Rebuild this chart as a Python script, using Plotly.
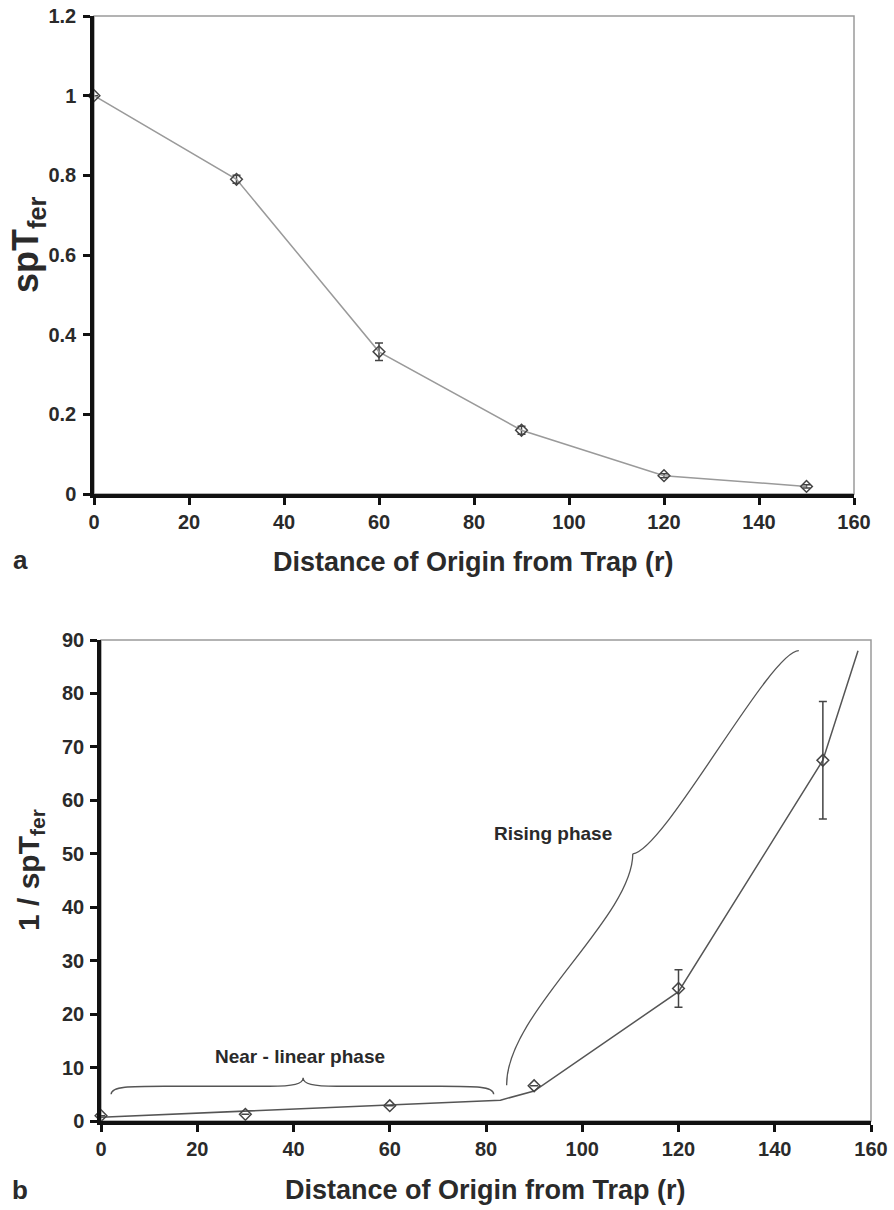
import plotly.graph_objects as go

# ---- data ----
r_top = [0, 30, 60, 90, 120, 150]
sp_top = [1.0, 0.79, 0.357, 0.16, 0.046, 0.019]
sp_err = [0.0, 0.01, 0.022, 0.01, 0.005, 0.004]

r_bot = [0, 30, 60, 90, 120, 150]
inv_bot = [1.0, 1.25, 2.86, 6.6, 24.8, 67.5]
inv_err = [0.0, 0.0, 0.0, 0.0, 3.5, 11.0]

fit_r = [0, 83, 90, 120, 150, 157.3]
fit_inv = [0.7, 3.9, 5.6, 24.2, 67.5, 88.0]

x_ticks = [0, 20, 40, 60, 80, 100, 120, 140, 160]

# brace key points (data coordinates of panel b)
near_brace = dict(x0=2.1, x1=81.6, y_end=5.0, y_flat=6.5, x_tip=42.0, y_tip=8.1)
rise_lower = [(84.3, 6.7), (84.0, 20.0), (110.5, 38.0), (110.5, 50.0)]
rise_upper = [(110.5, 50.0), (117.0, 50.5), (139.0, 88.0), (145.0, 88.0)]

FONT = "Liberation Sans, Arial, sans-serif"
W, H = 894, 1210

fig = go.Figure()

fig.add_trace(go.Scatter(
    x=r_top, y=sp_top, mode="lines+markers", xaxis="x", yaxis="y",
    line=dict(color="#9a9a9a", width=1.5),
    marker=dict(symbol="diamond-open", size=9, color="#444", line=dict(width=1.5, color="#444")),
    error_y=dict(type="data", array=sp_err, visible=True, color="#444", thickness=1.5, width=4),
    cliponaxis=False, showlegend=False))

fig.add_trace(go.Scatter(
    x=fit_r, y=fit_inv, mode="lines", xaxis="x2", yaxis="y2",
    line=dict(color="#555", width=1.5), cliponaxis=False, showlegend=False))

fig.add_trace(go.Scatter(
    x=r_bot, y=inv_bot, mode="markers", xaxis="x2", yaxis="y2",
    marker=dict(symbol="diamond-open", size=9, color="#444", line=dict(width=1.5, color="#444")),
    error_y=dict(type="data", array=inv_err, visible=True, color="#444", thickness=1.5, width=4),
    cliponaxis=False, showlegend=False))

axis_common = dict(showgrid=False, zeroline=False, showline=True, linecolor="#111", linewidth=3.5,
                   ticks="outside", ticklen=7, tickwidth=3, tickcolor="#111", automargin=False,
                   tickfont=dict(family=FONT, size=20, color="#2a2a2a", weight="bold"))

def px_x(p):
    return p / W

def px_y(p):
    return 1 - p / H

fig.update_layout(
    width=W, height=H, margin=dict(l=0, r=0, t=0, b=0, pad=0, autoexpand=False),
    paper_bgcolor="white", plot_bgcolor="white",
    xaxis=dict(domain=[px_x(94), px_x(854)], range=[0, 160], tickvals=x_ticks, anchor="y", **axis_common),
    yaxis=dict(domain=[px_y(494), px_y(16)], range=[0, 1.2], dtick=0.2, anchor="x",
               ticklabelstandoff=3, **axis_common),
    xaxis2=dict(domain=[px_x(101), px_x(871)], range=[0, 160], tickvals=x_ticks, anchor="y2", **axis_common),
    yaxis2=dict(domain=[px_y(1121), px_y(640)], range=[0, 90], dtick=10, anchor="x2",
                ticklabelstandoff=2, **axis_common),
)

shapes = []
for xr, yr in (("x", "y"), ("x2", "y2")):
    shapes.append(dict(type="rect", xref=f"{xr} domain", yref=f"{yr} domain", x0=0, x1=1, y0=0, y1=1,
                       line=dict(color="#9a9a9a", width=1.5), layer="below"))

nb = near_brace
xm = nb["x_tip"]
near_path = (
    f"M {nb['x0']},{nb['y_end']} "
    f"C {nb['x0']},{nb['y_flat']} {nb['x0']+4},{nb['y_flat']} {nb['x0']+11},{nb['y_flat']} "
    f"L {xm-7},{nb['y_flat']} "
    f"C {xm-2},{nb['y_flat']} {xm},{nb['y_flat']+0.4} {xm},{nb['y_tip']} "
    f"C {xm},{nb['y_flat']+0.4} {xm+2},{nb['y_flat']} {xm+7},{nb['y_flat']} "
    f"L {nb['x1']-11},{nb['y_flat']} "
    f"C {nb['x1']-4},{nb['y_flat']} {nb['x1']},{nb['y_flat']} {nb['x1']},{nb['y_end']}"
)

def cubic(pts):
    (a, b), (c, d), (e, f), (g, h) = pts
    return f"M {a},{b} C {c},{d} {e},{f} {g},{h}"

for p in (near_path, cubic(rise_lower), cubic(rise_upper)):
    shapes.append(dict(type="path", xref="x2", yref="y2", path=p,
                       line=dict(color="#555", width=1.3)))

fig.update_layout(shapes=shapes)

def ann(text, x, y, size, angle=0, xref="paper", yref="paper"):
    return dict(text=text, x=x, y=y, xref=xref, yref=yref, showarrow=False, textangle=angle,
                font=dict(family=FONT, size=size, color="#2a2a2a", weight="bold"),
                xanchor="center", yanchor="middle")

annotations = [
    ann("Distance of Origin from Trap (r)", px_x(473), px_y(562), 27),
    ann("a", px_x(20), px_y(560), 26),
    ann("spT<sub>fer</sub>", px_x(28), px_y(245), 36, angle=-90),
    ann("Distance of Origin from Trap (r)", px_x(485), px_y(1190), 27),
    ann("b", px_x(20), px_y(1190), 26),
    ann("1 / spT<sub>fer</sub>", px_x(30), px_y(870), 30, angle=-90),
    ann("Near - linear phase", 41.3, 12.0, 19, xref="x2", yref="y2"),
    ann("Rising phase", 93.9, 53.8, 19, xref="x2", yref="y2"),
]
fig.update_layout(annotations=annotations)

fig.write_html("out.html")
